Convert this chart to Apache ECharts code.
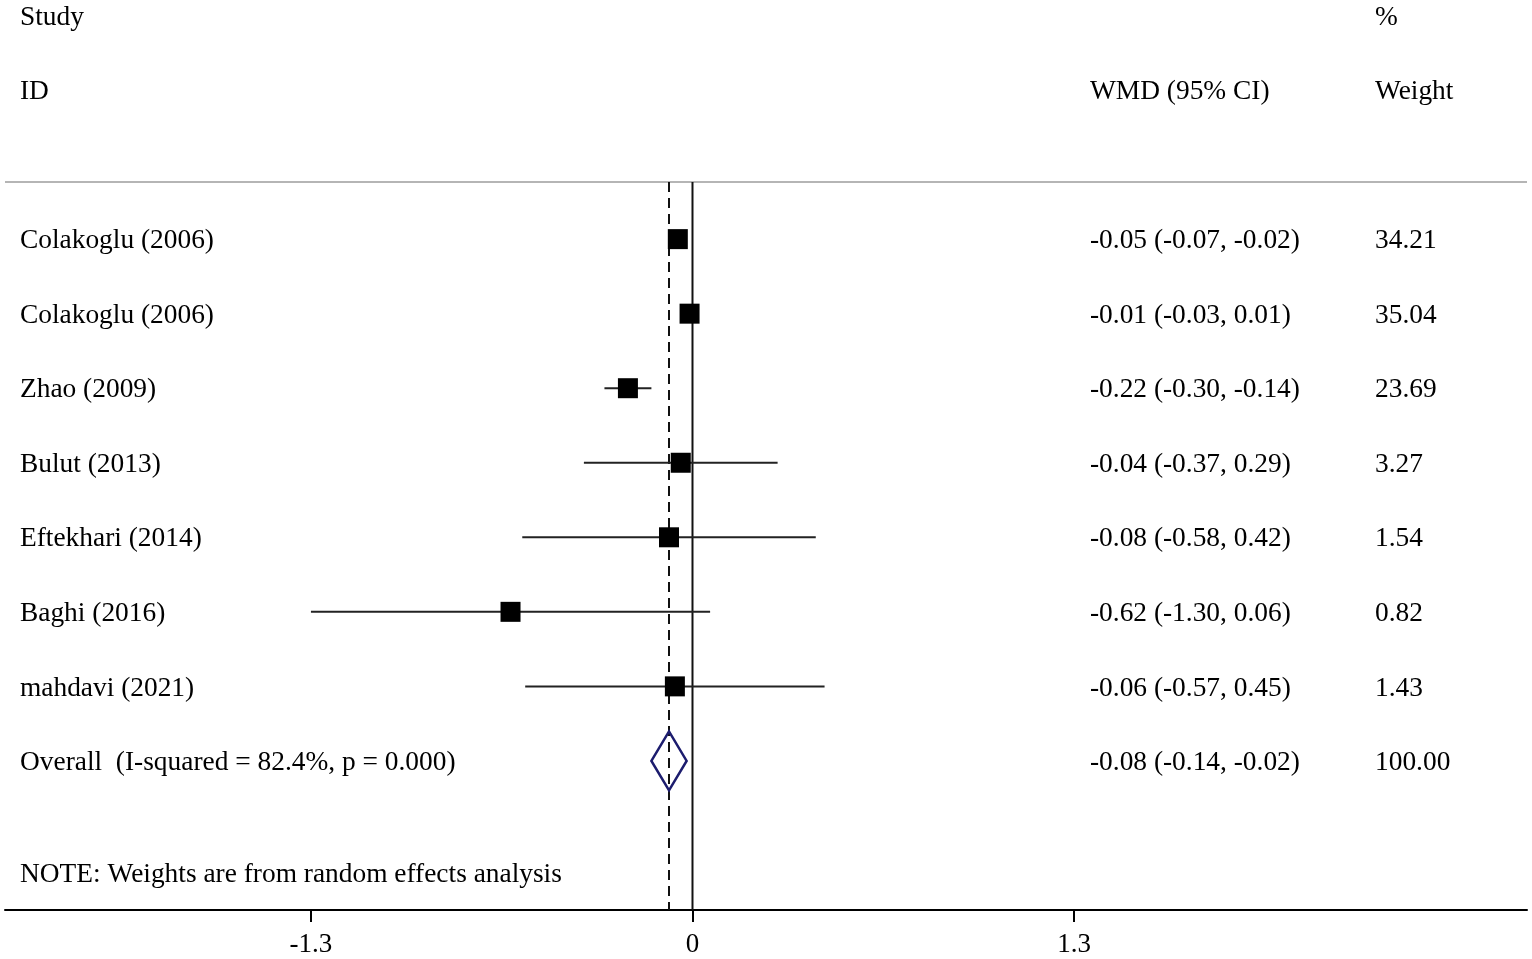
<!DOCTYPE html>
<html>
<head>
<meta charset="utf-8">
<script src="https://cdn.jsdelivr.net/npm/echarts@6/dist/echarts.min.js"></script>
<style>
  html, body { margin: 0; padding: 0; background: #fff; }
  #main { width: 1532px; height: 959px; }
</style>
</head>
<body>
<div id="main"></div>
<script>
// study rows
const studies = ['Colakoglu (2006)', 'Colakoglu (2006)', 'Zhao (2009)', 'Bulut (2013)',
  'Eftekhari (2014)', 'Baghi (2016)', 'mahdavi (2021)'];
const wmd = [-0.05, -0.01, -0.22, -0.04, -0.08, -0.62, -0.06];
const lower = [-0.07, -0.03, -0.30, -0.37, -0.58, -1.30, -0.57];
const upper = [-0.02, 0.01, -0.14, 0.29, 0.42, 0.06, 0.45];
const weights = [34.21, 35.04, 23.69, 3.27, 1.54, 0.82, 1.43];

// pooled estimate
const overallLabel = 'Overall  (I-squared = 82.4%, p = 0.000)';
const overallWmd = -0.08;
const overallLower = -0.14;
const overallUpper = -0.02;
const overallWeight = 100.00;

const noteText = 'NOTE: Weights are from random effects analysis';
const xTicks = [-1.3, 0, 1.3];

// layout of the plot (axis units)
const X_MIN = -2.3424, X_MAX = 2.8433;
const COL_STUDY = -2.2913, COL_CI = 1.3543, COL_WEIGHT = 2.3254;
const HEADER_ROW = -0.766, AXIS_ROW = 9;
const FONT = '27.4px "Liberation Serif", "Times New Roman", serif';

const fmt = v => v.toFixed(2);
const ciText = (m, l, u) => fmt(m) + ' (' + fmt(l) + ', ' + fmt(u) + ')';

const texts = [
  [COL_STUDY, -3, 'Study'],
  [COL_STUDY, -2, 'ID'],
  [COL_CI, -2, 'WMD (95% CI)'],
  [COL_WEIGHT, -3, '%'],
  [COL_WEIGHT, -2, 'Weight']
];
studies.forEach((s, i) => {
  texts.push([COL_STUDY, i, s]);
  texts.push([COL_CI, i, ciText(wmd[i], lower[i], upper[i])]);
  texts.push([COL_WEIGHT, i, fmt(weights[i])]);
});
const oRow = studies.length;
texts.push([COL_STUDY, oRow, overallLabel]);
texts.push([COL_CI, oRow, ciText(overallWmd, overallLower, overallUpper)]);
texts.push([COL_WEIGHT, oRow, fmt(overallWeight)]);
texts.push([COL_STUDY, 8.5, noteText]);

const studyData = studies.map((s, i) => [wmd[i], i, lower[i], upper[i]]);

const chart = echarts.init(document.getElementById('main'));

chart.setOption({
  animation: false,
  grid: { left: 5, right: 5, top: 15.5, bottom: 49 },
  xAxis: {
    type: 'value',
    min: X_MIN,
    max: X_MAX,
    splitLine: { show: false },
    axisLine: { show: true, onZero: false, lineStyle: { color: '#000', width: 2 } },
    axisTick: { show: true, customValues: xTicks, length: 12, lineStyle: { color: '#000', width: 2 } },
    axisLabel: {
      customValues: xTicks,
      margin: 21,
      color: '#000',
      fontSize: 27,
      fontFamily: '"Liberation Serif", "Times New Roman", serif',
      formatter: v => String(v)
    }
  },
  yAxis: {
    type: 'value',
    inverse: true,
    min: -3,
    max: AXIS_ROW,
    show: false,
    splitLine: { show: false }
  },
  series: [
    {
      // header separator
      type: 'line',
      data: [[X_MIN, HEADER_ROW], [X_MAX, HEADER_ROW]],
      symbol: 'none',
      lineStyle: { color: '#b5b5b5', width: 2 },
      z: 1
    },
    {
      // line of no effect
      type: 'line',
      data: [[0, HEADER_ROW], [0, AXIS_ROW]],
      symbol: 'none',
      lineStyle: { color: '#111', width: 2 },
      z: 2
    },
    {
      // pooled estimate line
      type: 'line',
      data: [[overallWmd, HEADER_ROW], [overallWmd, AXIS_ROW]],
      symbol: 'none',
      lineStyle: { color: '#111', width: 2, type: [10, 6] },
      z: 2
    },
    {
      type: 'custom',
      clip: false,
      z: 3,
      data: studyData,
      renderItem: function (params, api) {
        const c = api.coord([api.value(0), api.value(1)]);
        const l = api.coord([api.value(2), api.value(1)]);
        const u = api.coord([api.value(3), api.value(1)]);
        return {
          type: 'group',
          children: [
            { type: 'line', shape: { x1: l[0], y1: l[1], x2: u[0], y2: u[1] },
              style: { stroke: '#222', lineWidth: 2 } },
            { type: 'rect', shape: { x: c[0] - 10, y: c[1] - 10, width: 20, height: 20 },
              style: { fill: '#000' } }
          ]
        };
      }
    },
    {
      type: 'custom',
      clip: false,
      z: 4,
      data: [[overallWmd, oRow, overallLower, overallUpper]],
      renderItem: function (params, api) {
        const c = api.coord([api.value(0), api.value(1)]);
        const l = api.coord([api.value(2), api.value(1)]);
        const u = api.coord([api.value(3), api.value(1)]);
        const h = 29.5;
        return {
          type: 'polygon',
          shape: { points: [[l[0], l[1]], [c[0], c[1] - h], [u[0], u[1]], [c[0], c[1] + h]] },
          style: { fill: 'none', stroke: '#1c1c6e', lineWidth: 2.5 }
        };
      }
    },
    {
      type: 'custom',
      clip: false,
      z: 5,
      data: texts,
      renderItem: function (params, api) {
        const p = api.coord([api.value(0), api.value(1)]);
        return {
          type: 'text',
          x: p[0],
          y: p[1] + 2,
          style: {
            text: texts[params.dataIndex][2],
            font: FONT,
            fill: '#000',
            align: 'left',
            verticalAlign: 'middle'
          }
        };
      }
    }
  ]
});

window.addEventListener('resize', () => {
  chart.resize();
});
</script>
</body>
</html>
